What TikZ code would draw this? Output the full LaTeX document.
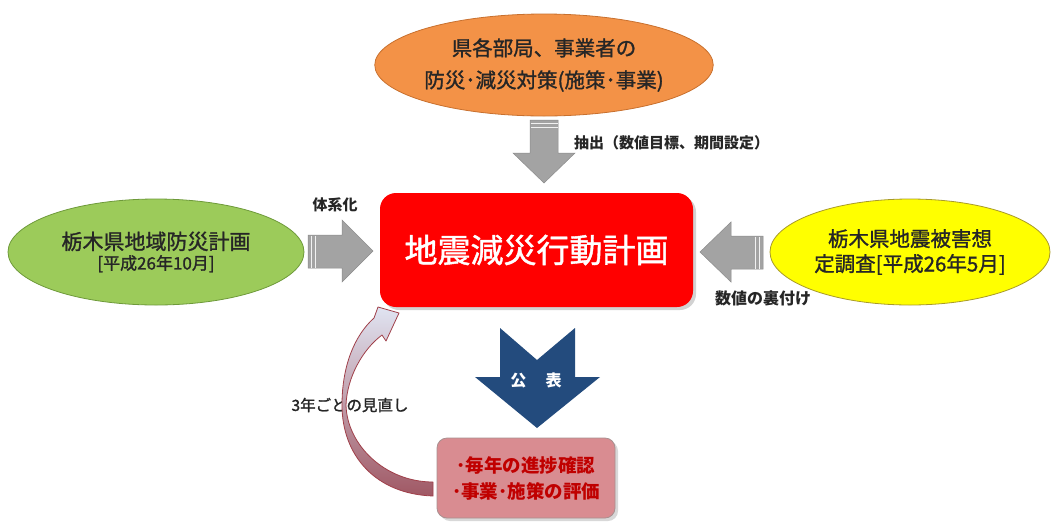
\documentclass[tikz,border=0pt]{standalone}
\usepackage{fontspec}
\setmainfont{Noto Sans CJK JP}
\newfontfamily\regf{Noto Sans CJK JP}[FakeBold=1.3]
\usetikzlibrary{shapes.geometric,shadows}
\definecolor{orF}{HTML}{F39247}
\definecolor{orD}{HTML}{C8702E}
\definecolor{grF}{HTML}{9CCB5A}
\definecolor{grD}{HTML}{6E9A3A}
\definecolor{yeF}{HTML}{FFFF00}
\definecolor{yeD}{HTML}{A89A2A}
\definecolor{arrG}{HTML}{A3A3A3}
\definecolor{arrD}{HTML}{8C8C8C}
\definecolor{navy}{HTML}{234B7D}
\definecolor{pinkF}{HTML}{D98C91}
\definecolor{pinkD}{HTML}{A89090}
\definecolor{dred}{HTML}{C00000}
\definecolor{curvD}{HTML}{A0404A}
\definecolor{curvT}{HTML}{E0E4F2}
\definecolor{curvM}{HTML}{D6D2E2}
\definecolor{curvB}{HTML}{A05864}
\tikzset{
  ell/.style={ellipse, inner sep=0pt, align=center, line width=0.8pt, text=black!85},
  grayarrow/.style={fill=arrG, draw=arrD, line width=0.5pt},
  stripe/.style={draw=white!85!arrG, line width=1.2pt},
  lbl/.style={font=\fontsize{15}{17}\selectfont\bfseries, text=black!85, inner sep=0pt}
}
\begin{document}
\begin{tikzpicture}[x=1pt,y=-1pt]
\useasboundingbox[fill=white] (0,0) rectangle (1052,523);

% ellipses
\node[ell, fill=orF, draw=orD, minimum width=312pt, minimum height=102pt,
      font=\regf\fontsize{20.5}{32}\selectfont] (top) at (544,65)
  {県各部局、事業者の\\防災･減災対策(施策･事業)};
\node[ell, fill=grF, draw=grD, minimum width=296pt, minimum height=106pt, font=\regf] (left) at (156,252)
  {{\fontsize{21}{28}\selectfont 栃木県地域防災計画}\\[3pt]{\fontsize{17}{24}\selectfont [平成26年10月]}};
\node[ell, fill=yeF, draw=yeD, minimum width=280pt, minimum height=106pt,
      font=\regf\fontsize{20.5}{25}\selectfont] (right) at (910,252)
  {栃木県地震被害想\\定調査[平成26年5月]};

% main red box
\node[fill=red, rounded corners=16pt, minimum width=313pt, minimum height=114pt,
      drop shadow={opacity=0.35, shadow xshift=3pt, shadow yshift=-3pt},
      text=white, font=\regf\fontsize{33}{36}\selectfont] (main) at (536.5,250) {地震減災行動計画};

% bottom pink box
\node[fill=pinkF, draw=pinkD, line width=0.8pt, rounded corners=10pt, minimum width=178pt, minimum height=80pt,
      drop shadow={opacity=0.3, shadow xshift=3pt, shadow yshift=-3pt},
      text=dred, align=center, font=\fontsize{18.5}{26}\selectfont\bfseries] (eval) at (526,478)
  {･毎年の進捗確認\\･事業･施策の評価};

% top gray arrow
\path[grayarrow] (530,120) -- (558,120) -- (558,153) -- (575,153) -- (544,183) -- (513,153) -- (530,153) -- cycle;
\draw[stripe] (530.5,123.5) -- (557.5,123.5);
\draw[stripe] (530.5,127.5) -- (557.5,127.5);
\node[lbl, anchor=west] (l1) at (574,143) {抽出（数値目標、期間設定）};

% left gray arrow
\path[grayarrow] (308,235) -- (342,235) -- (342,220) -- (373,251) -- (342,282) -- (342,268) -- (308,268) -- cycle;
\draw[stripe] (311.5,235.5) -- (311.5,267.5);
\draw[stripe] (315.5,235.5) -- (315.5,267.5);
\node[lbl] (l2) at (335,205) {体系化};

% right gray arrow
\path[grayarrow] (763,236) -- (731,236) -- (731,222) -- (700,252) -- (731,282) -- (731,269) -- (763,269) -- cycle;
\draw[stripe] (759.5,236.5) -- (759.5,268.5);
\draw[stripe] (755.5,236.5) -- (755.5,268.5);
\node[lbl, font=\fontsize{16}{18}\selectfont\bfseries] (l3) at (763,298) {数値の裏付け};

% navy chevron arrow
\path[fill=navy] (500,328) -- (537,360) -- (575,328) -- (575,377) -- (600,377) -- (537,428) -- (475,377) -- (500,377) -- cycle;
\node[text=white, font=\fontsize{16}{18}\selectfont\bfseries] (pub) at (536,380) {公\hspace{1.2em}表};

% review label
\node[font=\regf\fontsize{15.5}{18}\selectfont, text=black!85, inner sep=0pt] (rev) at (350,405) {3年ごとの見直し};

% curved review arrow
\path[draw=curvD, line width=0.8pt, top color=curvT, middle color=curvM, bottom color=curvB, line join=round]
  (433,496) .. controls (375,494) and (342,455) .. (342,405)
  .. controls (342,365) and (355,335) .. (374,318)
  -- (378,307) -- (399,313) -- (386,341) -- (382,335)
  .. controls (362,350) and (347,378) .. (346,405)
  .. controls (347,445) and (385,482) .. (433,482) -- cycle;
\end{tikzpicture}
\end{document}
